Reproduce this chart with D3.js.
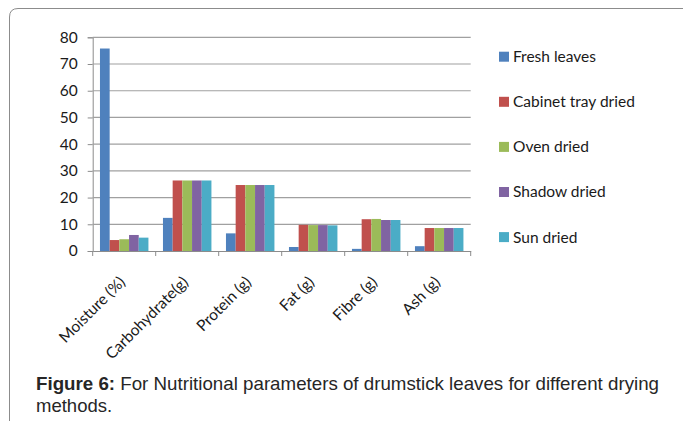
<!DOCTYPE html>
<html>
<head>
<meta charset="utf-8">
<script src="https://cdn.jsdelivr.net/npm/d3@7"></script>
<style>
  html, body { margin: 0; padding: 0; background: #fff; }
  svg { display: block; }
</style>
</head>
<body>
<svg id="chart" width="683" height="421"></svg>
<script>
// Nutritional parameters of drumstick leaves by drying method
const categories = ["Moisture (%)", "Carbohydrate(g)", "Protein (g)", "Fat (g)", "Fibre (g)", "Ash (g)"];
const seriesNames = ["Fresh leaves", "Cabinet tray dried", "Oven dried", "Shadow dried", "Sun dried"];
const freshLeaves   = [75.8, 12.4, 6.6, 1.5, 0.8, 1.8];
const cabinetDried  = [4.1, 26.4, 24.7, 9.8, 11.9, 8.6];
const ovenDried     = [4.4, 26.4, 24.7, 9.7, 12.0, 8.6];
const shadowDried   = [6.0, 26.4, 24.7, 9.7, 11.6, 8.6];
const sunDried      = [5.0, 26.4, 24.7, 9.6, 11.6, 8.6];
const yTicks = [0, 10, 20, 30, 40, 50, 60, 70, 80];
const colors = ["#4F81BD", "#C0504D", "#9BBB59", "#8064A2", "#4BACC6"];

const seriesValues = [freshLeaves, cabinetDried, ovenDried, shadowDried, sunDried];

const svg = d3.select("#chart");
const labelFont = "Lato, 'Open Sans', sans-serif";

// Figure frame: rounded corner at top-left, open at right and bottom
svg.append("path")
  .attr("d", "M9.5,421 L9.5,17 Q9.5,8.5 18,8.5 L683,8.5")
  .attr("fill", "none")
  .attr("stroke", "#8c8c8c")
  .attr("stroke-width", 1);

const plot = { left: 92.7, right: 470.7, top: 37.3, bottom: 251 };

const y = d3.scaleLinear().domain([0, 80]).range([plot.bottom, plot.top]);
const x0 = d3.scaleBand().domain(categories).range([plot.left, plot.right]).paddingInner(0).paddingOuter(0);
// Excel-style 150% gap width: bars fill 5/6.5 of each category
const groupPad = 1.5 / 6.5;
const x1 = d3.scaleBand().domain(seriesNames)
  .range([x0.bandwidth() * groupPad / 2, x0.bandwidth() * (1 - groupPad / 2)])
  .padding(0);

// Value axis
const gAxisY = svg.append("g")
  .attr("transform", `translate(${plot.left},0)`)
  .call(d3.axisLeft(y).tickValues(yTicks).tickSize(5).tickPadding(10).tickFormat(d3.format("d")));
gAxisY.select(".domain").attr("stroke", "#8c8c8c");
gAxisY.selectAll(".tick line").attr("stroke", "#8c8c8c");
gAxisY.selectAll(".tick text")
  .attr("font-family", labelFont)
  .attr("font-size", 15.5)
  .attr("fill", "#1a1a1a");

// Gridlines
svg.append("g").selectAll("line")
  .data(yTicks.filter(d => d > 0))
  .join("line")
  .attr("x1", plot.left).attr("x2", plot.right)
  .attr("y1", d => y(d)).attr("y2", d => y(d))
  .attr("stroke", "#a0a0a0")
  .attr("stroke-width", 1.2);

// Bars
const groups = svg.append("g").selectAll("g")
  .data(categories)
  .join("g")
  .attr("transform", d => `translate(${x0(d)},0)`);

groups.selectAll("rect")
  .data((c, ci) => seriesNames.map((s, si) => ({ s, si, v: seriesValues[si][ci] })))
  .join("rect")
  .attr("x", d => x1(d.s))
  .attr("width", x1.bandwidth())
  .attr("y", d => y(d.v))
  .attr("height", d => y(0) - y(d.v))
  .attr("fill", d => colors[d.si]);

// Category axis
const gAxisX = svg.append("g")
  .attr("transform", `translate(0,${plot.bottom})`)
  .call(d3.axisBottom(x0).tickSize(0).tickFormat(""));
gAxisX.select(".domain").attr("stroke", "#8c8c8c");
gAxisX.selectAll(".tick").remove();

// Category boundary ticks
const boundaries = categories.map(c => x0(c)).concat([plot.right]);
svg.append("g").selectAll("line")
  .data(boundaries)
  .join("line")
  .attr("x1", d => d).attr("x2", d => d)
  .attr("y1", plot.bottom).attr("y2", plot.bottom + 5)
  .attr("stroke", "#8c8c8c");

// Rotated category labels
svg.append("g").selectAll("text")
  .data(categories)
  .join("text")
  .attr("transform", d => `translate(${x0(d) + x0.bandwidth() / 2 + 2},${plot.bottom + 32}) rotate(-45)`)
  .attr("text-anchor", "end")
  .attr("font-family", labelFont)
  .attr("font-size", 15.5)
  .attr("fill", "#1a1a1a")
  .text(d => d);

// Legend
const legend = svg.append("g").selectAll("g")
  .data(seriesNames)
  .join("g")
  .attr("transform", (d, i) => `translate(499,${56.7 + i * 45.1})`);
legend.append("rect")
  .attr("x", 0).attr("y", -5)
  .attr("width", 10).attr("height", 10)
  .attr("fill", (d, i) => colors[i]);
legend.append("text")
  .attr("x", 14).attr("y", 0)
  .attr("dy", "0.35em")
  .attr("font-family", labelFont)
  .attr("font-size", 15.5)
  .attr("fill", "#1a1a1a")
  .text(d => d);

// Caption
const caption = svg.append("text")
  .attr("x", 36).attr("y", 390)
  .attr("font-family", "'Liberation Sans', Arial, sans-serif")
  .attr("font-size", 18.5)
  .attr("fill", "#262626")
  .attr("textLength", 623)
  .attr("lengthAdjust", "spacingAndGlyphs");
caption.append("tspan").attr("font-weight", "bold").text("Figure 6:");
caption.append("tspan").text(" For Nutritional parameters of drumstick leaves for different drying");
svg.append("text")
  .attr("x", 36).attr("y", 411.5)
  .attr("font-family", "'Liberation Sans', Arial, sans-serif")
  .attr("font-size", 18.5)
  .attr("fill", "#262626")
  .text("methods.");
</script>
</body>
</html>
